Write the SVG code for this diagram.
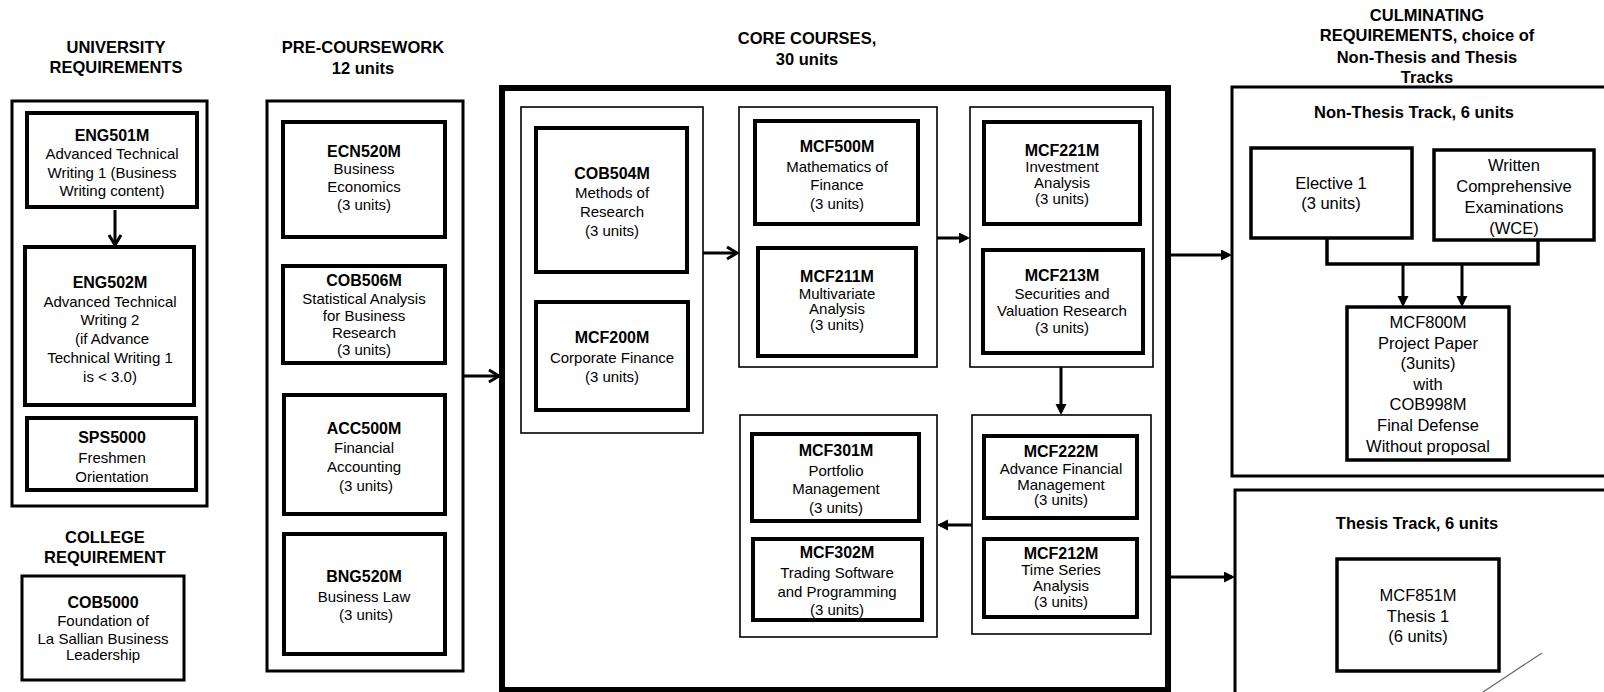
<svg xmlns="http://www.w3.org/2000/svg" width="1604" height="692" viewBox="0 0 1604 692">
<style>
text{font-family:"Liberation Sans",Arial,sans-serif;fill:#000;text-anchor:middle}
.h{font-size:16.5px;font-weight:bold}
.t{font-size:16px;font-weight:bold}
.b{font-size:15px}
.c{font-size:16.5px}
.box{fill:#fff;stroke:#000;stroke-width:4}
.grp{fill:#fff;stroke:#000;stroke-width:3}
.col{fill:#fff;stroke:#000;stroke-width:1.6}
.cbox{fill:#fff;stroke:#000;stroke-width:3.5}
.ln{fill:none;stroke:#000;stroke-width:3}
</style>
<defs>
<marker id="chev" markerUnits="userSpaceOnUse" markerWidth="14" markerHeight="16" refX="11" refY="7" orient="auto">
<path d="M1,1 L11,7 L1,13" fill="none" stroke="#000" stroke-width="3"/>
</marker>
<marker id="tri" markerUnits="userSpaceOnUse" markerWidth="12" markerHeight="12" refX="8" refY="5.5" orient="auto">
<path d="M0,0 L11,5.5 L0,11 z" fill="#000"/>
</marker>
</defs>
<rect width="1604" height="692" fill="#fff"/>

<g id="headings">
<text class="h" x="116" y="53">UNIVERSITY</text>
<text class="h" x="116" y="73">REQUIREMENTS</text>
<text class="h" x="363" y="53">PRE-COURSEWORK</text>
<text class="h" x="363" y="74">12 units</text>
<text class="h" x="807" y="44">CORE COURSES,</text>
<text class="h" x="807" y="65">30  units</text>
<text class="h" x="1427" y="21">CULMINATING</text>
<text class="h" x="1427" y="41">REQUIREMENTS, choice of</text>
<text class="h" x="1427" y="63">Non-Thesis and Thesis</text>
<text class="h" x="1427" y="83">Tracks</text>
<text class="h" x="105" y="543">COLLEGE</text>
<text class="h" x="105" y="563">REQUIREMENT</text>
</g>

<g id="university">
<rect class="grp" x="12" y="101" width="195" height="405"/>
</g>
<g id="ENG501M">
<rect class="box" x="27" y="113" width="170" height="94"/>
<text class="t" x="112" y="141">ENG501M</text>
<text class="b" x="112" y="159">Advanced Technical</text>
<text class="b" x="112" y="178">Writing 1 (Business</text>
<text class="b" x="112" y="196">Writing content)</text>
</g>
<g id="ENG502M">
<rect class="box" x="25" y="247" width="169" height="158"/>
<text class="t" x="110" y="288">ENG502M</text>
<text class="b" x="110" y="307">Advanced Technical</text>
<text class="b" x="110" y="325">Writing 2</text>
<text class="b" x="112" y="344">(if Advance</text>
<text class="b" x="110" y="363">Technical Writing 1</text>
<text class="b" x="110" y="382">is  &lt; 3.0)</text>
</g>
<g id="SPS5000">
<rect class="box" x="27" y="418" width="169" height="72"/>
<text class="t" x="112" y="443">SPS5000</text>
<text class="b" x="112" y="463">Freshmen</text>
<text class="b" x="112" y="482">Orientation</text>
</g>
<g id="COB5000">
<rect class="grp" x="22" y="576" width="162" height="104"/>
<text class="t" x="103" y="608">COB5000</text>
<text class="b" x="103" y="626">Foundation of</text>
<text class="b" x="103" y="644">La Sallian Business</text>
<text class="b" x="103" y="660">Leadership</text>
</g>

<g id="precoursework">
<rect class="grp" x="267" y="101" width="196" height="570"/>
</g>
<g id="ECN520M">
<rect class="box" x="283" y="122" width="162" height="115"/>
<text class="t" x="364" y="157">ECN520M</text>
<text class="b" x="364" y="174">Business</text>
<text class="b" x="364" y="192">Economics</text>
<text class="b" x="364" y="210">(3 units)</text>
</g>
<g id="COB506M">
<rect class="box" x="283" y="266" width="162" height="97"/>
<text class="t" x="364" y="286">COB506M</text>
<text class="b" x="364" y="304">Statistical Analysis</text>
<text class="b" x="364" y="321">for Business</text>
<text class="b" x="364" y="338">Research</text>
<text class="b" x="364" y="355">(3 units)</text>
</g>
<g id="ACC500M">
<rect class="box" x="284" y="395" width="161" height="119"/>
<text class="t" x="364" y="434">ACC500M</text>
<text class="b" x="364" y="453">Financial</text>
<text class="b" x="364" y="472">Accounting</text>
<text class="b" x="366" y="491">(3 units)</text>
</g>
<g id="BNG520M">
<rect class="box" x="284" y="534" width="161" height="120"/>
<text class="t" x="364" y="582">BNG520M</text>
<text class="b" x="364" y="602">Business Law</text>
<text class="b" x="366" y="620">(3 units)</text>
</g>

<g id="core">
<rect x="502" y="88" width="666" height="602" fill="#fff" stroke="#000" stroke-width="6"/>
<rect class="col" x="521" y="107" width="182" height="326"/>
<rect class="col" x="739" y="107" width="198" height="260"/>
<rect class="col" x="970" y="107" width="183" height="260"/>
<rect class="col" x="740" y="415" width="197" height="222"/>
<rect class="col" x="972" y="415" width="179" height="219"/>
</g>
<g id="COB504M">
<rect class="box" x="536" y="128" width="151" height="144"/>
<text class="t" x="612" y="179">COB504M</text>
<text class="b" x="612" y="198">Methods of</text>
<text class="b" x="612" y="217">Research</text>
<text class="b" x="612" y="236">(3 units)</text>
</g>
<g id="MCF200M">
<rect class="box" x="536" y="302" width="152" height="108"/>
<text class="t" x="612" y="343">MCF200M</text>
<text class="b" x="612" y="363">Corporate Finance</text>
<text class="b" x="612" y="382">(3 units)</text>
</g>
<g id="MCF500M">
<rect class="box" x="755" y="121" width="163" height="103"/>
<text class="t" x="837" y="152">MCF500M</text>
<text class="b" x="837" y="172">Mathematics of</text>
<text class="b" x="837" y="190">Finance</text>
<text class="b" x="837" y="209">(3 units)</text>
</g>
<g id="MCF211M">
<rect class="box" x="758" y="248" width="158" height="108"/>
<text class="t" x="837" y="282">MCF211M</text>
<text class="b" x="837" y="299">Multivariate</text>
<text class="b" x="837" y="314">Analysis</text>
<text class="b" x="837" y="330">(3 units)</text>
</g>
<g id="MCF221M">
<rect class="box" x="984" y="122" width="156" height="102"/>
<text class="t" x="1062" y="156">MCF221M</text>
<text class="b" x="1062" y="172">Investment</text>
<text class="b" x="1062" y="188">Analysis</text>
<text class="b" x="1062" y="204">(3 units)</text>
</g>
<g id="MCF213M">
<rect class="box" x="983" y="250" width="160" height="103"/>
<text class="t" x="1062" y="281">MCF213M</text>
<text class="b" x="1062" y="299">Securities and</text>
<text class="b" x="1062" y="316">Valuation Research</text>
<text class="b" x="1062" y="333">(3 units)</text>
</g>
<g id="MCF301M">
<rect class="box" x="752" y="434" width="167" height="87"/>
<text class="t" x="836" y="456">MCF301M</text>
<text class="b" x="836" y="476">Portfolio</text>
<text class="b" x="836" y="494">Management</text>
<text class="b" x="836" y="513">(3 units)</text>
</g>
<g id="MCF302M">
<rect class="box" x="753" y="539" width="169" height="81"/>
<text class="t" x="837" y="558">MCF302M</text>
<text class="b" x="837" y="578">Trading Software</text>
<text class="b" x="837" y="597">and Programming</text>
<text class="b" x="837" y="615">(3 units)</text>
</g>
<g id="MCF222M">
<rect class="box" x="984" y="436" width="153" height="82"/>
<text class="t" x="1061" y="457">MCF222M</text>
<text class="b" x="1061" y="474">Advance Financial</text>
<text class="b" x="1061" y="490">Management</text>
<text class="b" x="1061" y="505">(3 units)</text>
</g>
<g id="MCF212M">
<rect class="box" x="984" y="539" width="153" height="78"/>
<text class="t" x="1061" y="559">MCF212M</text>
<text class="b" x="1061" y="575">Time Series</text>
<text class="b" x="1061" y="591">Analysis</text>
<text class="b" x="1061" y="607">(3 units)</text>
</g>

<g id="nonthesis">
<rect class="grp" x="1232" y="87" width="400" height="389"/>
<text class="h" x="1414" y="118">Non-Thesis  Track, 6 units</text>
</g>
<g id="Elective1">
<rect class="cbox" x="1251" y="148" width="161" height="90"/>
<text class="c" x="1331" y="189">Elective 1</text>
<text class="c" x="1331" y="209">(3 units)</text>
</g>
<g id="WCE">
<rect class="cbox" x="1434" y="150" width="160" height="90"/>
<text class="c" x="1514" y="171">Written</text>
<text class="c" x="1514" y="192">Comprehensive</text>
<text class="c" x="1514" y="213">Examinations</text>
<text class="c" x="1514" y="234">(WCE)</text>
</g>
<g id="MCF800M">
<rect class="cbox" x="1347" y="307" width="162" height="153"/>
<text class="c" x="1428" y="328">MCF800M</text>
<text class="c" x="1428" y="349">Project Paper</text>
<text class="c" x="1428" y="369">(3units)</text>
<text class="c" x="1428" y="390">with</text>
<text class="c" x="1428" y="410">COB998M</text>
<text class="c" x="1428" y="431">Final Defense</text>
<text class="c" x="1428" y="452">Without proposal</text>
</g>
<g id="thesis">
<rect class="grp" x="1235" y="490" width="400" height="250"/>
<text class="h" x="1417" y="529">Thesis  Track, 6 units</text>
</g>
<g id="MCF851M">
<rect class="cbox" x="1337" y="559" width="162" height="112"/>
<text class="c" x="1418" y="601">MCF851M</text>
<text class="c" x="1418" y="622">Thesis 1</text>
<text class="c" x="1418" y="642">(6 units)</text>
</g>

<g id="connectors">
<line class="ln" x1="115" y1="210" x2="115" y2="245" marker-end="url(#chev)"/>
<line class="ln" x1="463" y1="376" x2="499" y2="376" marker-end="url(#chev)"/>
<line class="ln" x1="703" y1="253" x2="737" y2="253" marker-end="url(#chev)"/>
<line class="ln" x1="937" y1="238" x2="967" y2="238" marker-end="url(#tri)"/>
<line class="ln" x1="1061" y1="367" x2="1061" y2="412" marker-end="url(#tri)"/>
<line class="ln" x1="972" y1="525" x2="940" y2="525" marker-end="url(#tri)"/>
<line class="ln" x1="1171" y1="255" x2="1229" y2="255" marker-end="url(#tri)"/>
<line class="ln" x1="1171" y1="577" x2="1232" y2="577" marker-end="url(#tri)"/>
<polyline points="1327,238 1327,264 1538,264 1538,240" fill="none" stroke="#000" stroke-width="3.5"/>
<line class="ln" x1="1403" y1="264" x2="1403" y2="304" marker-end="url(#tri)"/>
<line class="ln" x1="1462" y1="264" x2="1462" y2="304" marker-end="url(#tri)"/>
</g>
<line x1="1542" y1="653" x2="1483" y2="692" stroke="#666" stroke-width="1.2"/>
</svg>
